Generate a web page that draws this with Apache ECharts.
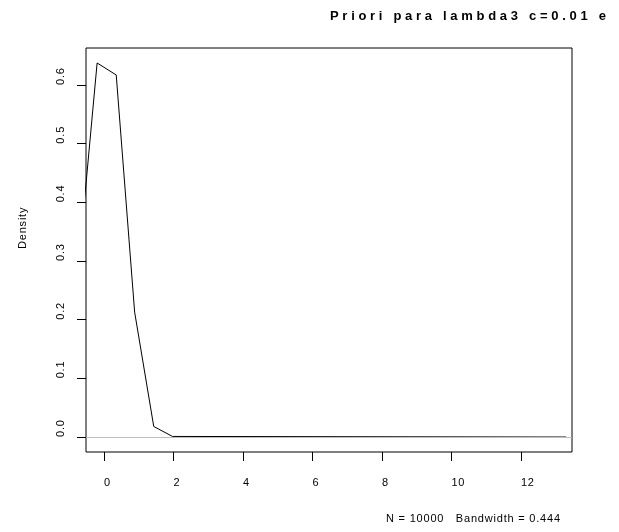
<!DOCTYPE html>
<html>
<head>
<meta charset="utf-8">
<script src="https://cdn.jsdelivr.net/npm/echarts@6/dist/echarts.min.js"></script>
<style>
  html, body { margin: 0; padding: 0; background: #fff; }
  #chart { width: 619px; height: 532px; }
</style>
</head>
<body>
<div id="chart"></div>
<script>
// Kernel density estimate of the lambda3 prior draws
const densityX = [-0.74, -0.2, 0.35, 0.88, 1.43, 1.97, 13.3];
const densityY = [0.29, 0.6375, 0.617, 0.213, 0.018, 0.001, 0];

const xTicks = [0, 2, 4, 6, 8, 10, 12];
const yTicks = [0, 0.1, 0.2, 0.3, 0.4, 0.5, 0.6];

const titleText = 'Priori para lambda3 c=0.01 e';
const subText = 'N = 10000   Bandwidth = 0.444';
const yName = 'Density';

// Spaced-out lettering in the style of R's default device output
const baseFillText = CanvasRenderingContext2D.prototype.fillText;
CanvasRenderingContext2D.prototype.fillText = function (t, x, y, w) {
  if ('letterSpacing' in this) {
    this.letterSpacing = /bold/.test(this.font) ? '3.7px' : '0.8px';
  }
  return w === undefined ? baseFillText.call(this, t, x, y) : baseFillText.call(this, t, x, y, w);
};

const FONT = 'Liberation Sans, Arial, sans-serif';
const chart = echarts.init(document.getElementById('chart'), null, { renderer: 'canvas' });

chart.setOption({
  animation: false,
  backgroundColor: '#fff',
  title: {
    text: titleText,
    left: 330,
    top: 10,
    padding: 0,
    textStyle: { fontFamily: FONT, fontSize: 13, fontWeight: 'bold', color: '#000' }
  },
  grid: {
    left: 86, top: 48, width: 486, height: 404,
    show: true, borderColor: '#000', borderWidth: 1, backgroundColor: 'transparent'
  },
  xAxis: {
    type: 'value',
    min: -0.52, max: 13.47,
    axisLine: { show: false, onZero: false },
    splitLine: { show: false },
    axisTick: { show: true, length: 9, inside: false, customValues: xTicks, lineStyle: { color: '#000', width: 1 } },
    axisLabel: {
      customValues: xTicks, margin: 25, align: 'left',
      fontFamily: FONT, fontSize: 11, color: '#000',
      formatter: v => String(v)
    }
  },
  yAxis: {
    type: 'value',
    min: -0.0255, max: 0.663,
    axisLine: { show: false, onZero: false },
    splitLine: { show: false },
    axisTick: { show: true, length: 9, inside: false, customValues: yTicks, lineStyle: { color: '#000', width: 1 } },
    axisLabel: {
      customValues: yTicks, margin: 20, rotate: 90, align: 'left', verticalAlign: 'bottom',
      fontFamily: FONT, fontSize: 11, color: '#000',
      formatter: v => v.toFixed(1)
    }
  },
  graphic: [
    {
      type: 'text', x: 23, y: 249, rotation: Math.PI / 2,
      style: { text: yName, fontFamily: FONT, fontSize: 11, fill: '#000', textAlign: 'left', textVerticalAlign: 'middle' }
    },
    {
      type: 'text', x: 386, y: 519,
      style: { text: subText, fontFamily: FONT, fontSize: 11, fill: '#000', textAlign: 'left', textVerticalAlign: 'middle' }
    }
  ],
  series: [{
    type: 'line',
    data: densityX.map((x, i) => [x, densityY[i]]),
    showSymbol: false,
    symbol: 'none',
    clip: true,
    lineStyle: { color: '#000', width: 1 },
    markLine: {
      silent: true,
      symbol: 'none',
      label: { show: false },
      lineStyle: { color: '#bebebe', width: 1, type: 'solid' },
      data: [{ yAxis: 0 }]
    },
    z: 3
  }]
});
</script>
</body>
</html>
